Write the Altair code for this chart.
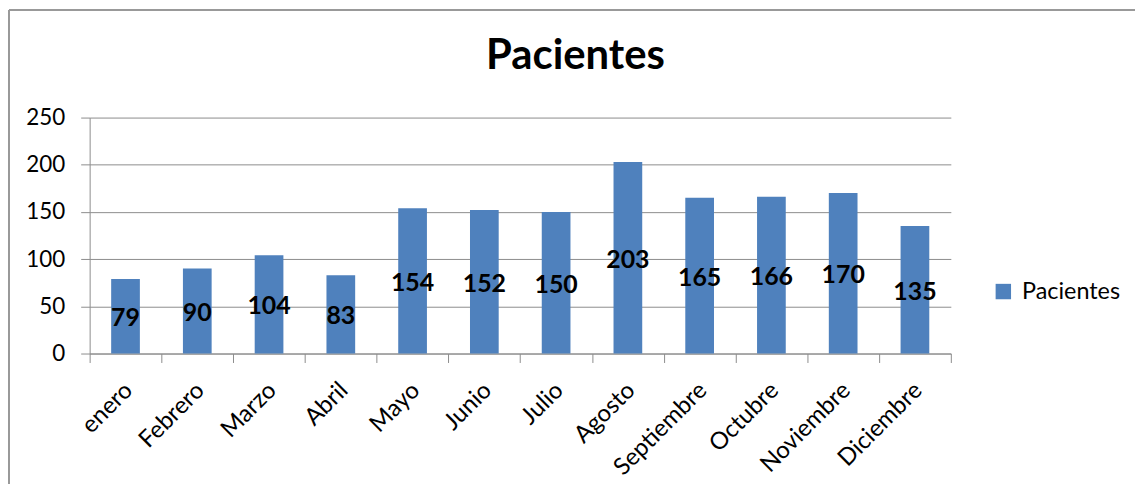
import altair as alt
import pandas as pd

meses = ["enero", "Febrero", "Marzo", "Abril", "Mayo", "Junio", "Julio",
         "Agosto", "Septiembre", "Octubre", "Noviembre", "Diciembre"]
pacientes = [79, 90, 104, 83, 154, 152, 150, 203, 165, 166, 170, 135]
serie = "Pacientes"
titulo = "Pacientes"
y_ticks = [0, 50, 100, 150, 200, 250]

df = pd.DataFrame({"mes": meses, "valor": pacientes, "serie": serie})

FONT = "Lato"
GRAY = "#8c8c8c"
W, H = 865, 237

base = alt.Chart(df)

x_enc = alt.X("mes:N", sort=meses, title=None,
              scale=alt.Scale(paddingInner=0, paddingOuter=0),
              axis=alt.Axis(tickBand="extent", labelAngle=-45, labelAlign="right",
                            labelBaseline="middle", labelPadding=24, labelOffset=3,
                            tickSize=9,
                            labelFont=FONT, labelFontSize=24, labelColor="black",
                            domainColor=GRAY, tickColor=GRAY, grid=False))

bars = base.mark_bar(color="#4F81BD", width=alt.RelativeBandSize(0.4)).encode(
    x=x_enc,
    y=alt.Y("valor:Q", title=None,
            scale=alt.Scale(domain=[0, 250], nice=False),
            axis=alt.Axis(values=y_ticks, grid=True, gridColor=GRAY, domainColor=GRAY,
                          tickColor=GRAY, tickSize=9, labelPadding=16,
                          labelFont=FONT, labelFontSize=22.5, labelColor="black")),
    color=alt.Color("serie:N", scale=alt.Scale(range=["#4F81BD"]),
                    legend=alt.Legend(orient="none", legendX=906, legendY=163, title=None,
                                      symbolType="square", symbolSize=240,
                                      symbolStrokeWidth=0, labelFont=FONT,
                                      labelFontSize=23.5, labelColor="black",
                                      labelOffset=7)),
)

labels = base.transform_calculate(mid="datum.valor / 2").mark_text(
    font=FONT, fontSize=25, fontWeight="bold", color="black", baseline="middle", dy=2
).encode(
    x=alt.X("mes:N", sort=meses),
    y=alt.Y("mid:Q"),
    text=alt.Text("valor:Q"),
)

title_mark = alt.Chart(pd.DataFrame({"t": [titulo]})).mark_text(
    font=FONT, fontSize=42, fontWeight="bold", color="black",
    align="center", baseline="alphabetic"
).encode(x=alt.value(488), y=alt.value(-49), text="t:N")

border = alt.Chart(pd.DataFrame({"k": [0]})).mark_rule(color="#999999", strokeWidth=2).encode(
    x=alt.value(-81), x2=alt.value(1060), y=alt.value(-108), y2=alt.value(-108)
)
border_l = alt.Chart(pd.DataFrame({"k": [0]})).mark_rule(color="#999999", strokeWidth=2).encode(
    x=alt.value(-81), x2=alt.value(-81), y=alt.value(-108), y2=alt.value(380)
)

chart = alt.layer(bars, labels, title_mark, border, border_l).properties(
    width=W, height=H,
    padding={"left": 82, "top": 109, "right": 185, "bottom": 130},
    autosize=alt.AutoSizeParams(type="none"),
).configure_view(stroke=None)

chart.save("out.html", embed_options={"renderer": "svg", "actions": False})
